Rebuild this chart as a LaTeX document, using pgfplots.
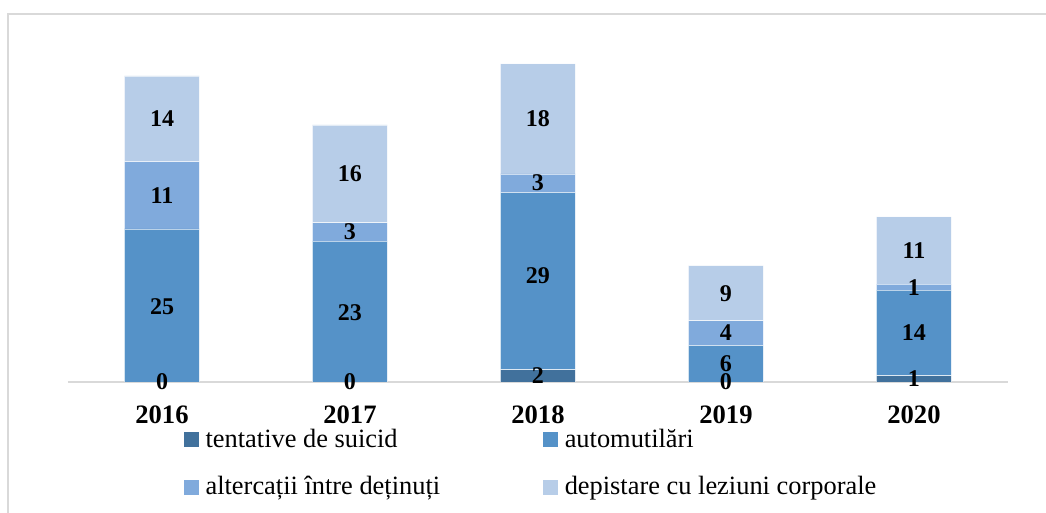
\documentclass[border=0pt]{standalone}
\usepackage{pgfplots}
\pgfplotsset{compat=1.18}
\usepackage{fontspec}
\setmainfont{Liberation Serif}
\definecolor{cA}{HTML}{41719C}
\definecolor{cB}{HTML}{5592C8}
\definecolor{cC}{HTML}{80AADC}
\definecolor{cD}{HTML}{B7CDE8}
\definecolor{frm}{HTML}{D9D9D9}
\begin{document}
\begin{tikzpicture}
\useasboundingbox (0pt,0pt) rectangle (523pt,256.5pt);
\clip (0pt,0pt) rectangle (523pt,256.5pt);
\draw[frm, line width=0.6pt] (4pt,-5pt) -- (4pt,249.5pt) -- (550pt,249.5pt);
\begin{axis}[
  at={(34pt,65.5pt)}, anchor=south west,
  scale only axis, width=470pt, height=183.6pt,
  ymin=0, ymax=60, xmin=-0.5, xmax=4.5,
  ybar stacked, bar width=37.5pt,
  hide y axis,
  axis x line*=bottom,
  x axis line style={frm, line width=0.8pt},
  xtick={0,1,2,3,4},
  xticklabels={2016,2017,2018,2019,2020},
  major tick length=0pt,
  xticklabel style={font=\bfseries\fontsize{13.3}{15}\selectfont, anchor=center, yshift=-16.25pt},
  legend columns=2,
  legend cell align=left,
  legend style={draw=none, fill=none, at={(0.1234,-0.1174)}, anchor=north west,
    font=\fontsize{13.2}{15}\selectfont, inner sep=0pt, outer sep=0pt, row sep=9pt,
    /tikz/every even column/.append style={column sep=49.5pt}},
  legend image code/.code={\draw[#1,draw=none] (0pt,-3.75pt) rectangle (7.5pt,3.75pt); \path (8.6pt,0pt);},
]
\addplot[fill=cA, draw=white, draw opacity=0.6, line width=0.4pt] coordinates {(0,0) (1,0) (2,2) (3,0) (4,1)};
\addplot[fill=cB, draw=white, draw opacity=0.6, line width=0.4pt] coordinates {(0,25) (1,23) (2,29) (3,6) (4,14)};
\addplot[fill=cC, draw=white, draw opacity=0.6, line width=0.4pt] coordinates {(0,11) (1,3) (2,3) (3,4) (4,1)};
\addplot[fill=cD, draw=white, draw opacity=0.6, line width=0.4pt] coordinates {(0,14) (1,16) (2,18) (3,9) (4,11)};
\legend{tentative de suicid, automutilări, altercații între deținuți, depistare cu leziuni corporale}
\end{axis}
\begin{axis}[
  at={(34pt,65.5pt)}, anchor=south west,
  scale only axis, width=470pt, height=183.6pt,
  ymin=0, ymax=60, xmin=-0.5, xmax=4.5,
  hide axis, clip=false,
]
\addplot[draw=none, mark=none, nodes near coords, point meta=explicit symbolic,
  nodes near coords style={anchor=center, font=\bfseries\fontsize{12}{14}\selectfont, text=black}]
  table[meta=l] {
x y l
0 0 0
0 12.3 25
0 30.5 11
0 43 14
1 0 0
1 11.3 23
1 24.5 3
1 34 16
2 1 2
2 17.3 29
2 32.5 3
2 43 18
3 0 0
3 3 6
3 8 4
3 14.5 9
4 0.5 1
4 8 14
4 15.5 1
4 21.5 11
};
\end{axis}
\end{tikzpicture}
\end{document}
